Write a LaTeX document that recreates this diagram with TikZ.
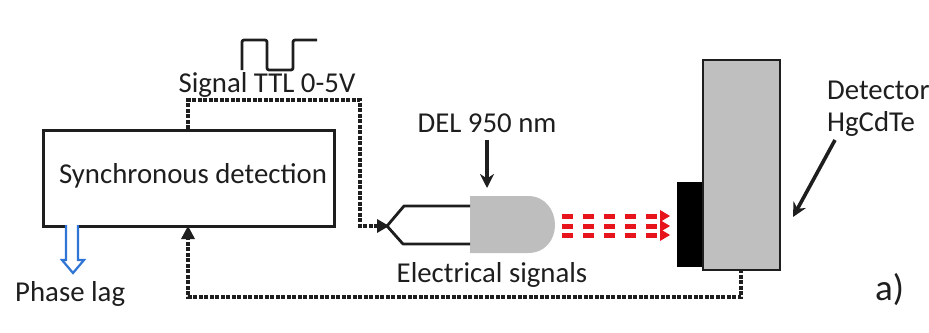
\documentclass[tikz,border=0pt]{standalone}
\usepackage{fontspec}
\setmainfont{Carlito}
\usetikzlibrary{arrows.meta,calc}
\definecolor{ledgray}{HTML}{BEBEBE}
\definecolor{detgray}{HTML}{BFBFBF}
\definecolor{sigred}{HTML}{E8141C}
\definecolor{lagblue}{HTML}{2F75D6}
\definecolor{inkc}{HTML}{1E1E1E}
\tikzset{
  x=1pt,y=-1pt,
  label text/.style={inner sep=0pt,text=inkc,font=\fontsize{28.8}{32}\selectfont},
  solidbox/.style={draw=inkc,line width=2.8pt,inner sep=0pt},
  wire/.style={draw=inkc,line width=2.8pt,line join=round},
  dotted link/.style={draw=inkc,line width=4.8pt,dash pattern=on 4pt off 1.5pt},
  black tip/.style={-{Stealth[length=14pt,width=14pt]}},
  red beam/.style={draw=sigred,line width=5pt,dash pattern=on 11pt off 10pt},
}
\begin{document}
\begin{tikzpicture}
\useasboundingbox (0,0) rectangle (929,332);
% main box
\node[solidbox,minimum width=291pt,minimum height=96pt,anchor=north west] (sync) at (42,129) {};
\node[label text,anchor=center] (synctext) at (193,176) {Synchronous detection};
% detector
\node[draw=inkc,line width=2.4pt,fill=detgray,minimum width=77pt,minimum height=210pt,inner sep=0pt,anchor=north west] (det) at (702,59) {};
\node[fill=black,minimum width=25pt,minimum height=85pt,inner sep=0pt,anchor=north east] (window) at (702,182) {};
% LED
\coordinate (ledL) at (470,225);
\fill[ledgray] (470,196) -- (528,196) .. controls (545,196) and (555,210) .. (555,225) .. controls (555,240) and (545,253) .. (528,253) -- (470,253) -- cycle;
% LED leads
\coordinate (fork) at (387,226);
\coordinate (leadT) at (470,206);
\coordinate (leadB) at (470,244);
\draw[wire] (fork) -- (404,206) -- (leadT);
\draw[wire] (fork) -- (403,244) -- (leadB);
% dotted connectors
\coordinate (syncTop) at (188,129);
\coordinate (syncBot) at (188,227);
\coordinate (detBot) at (741,269);
\draw[dotted link] (syncTop) -- (188,100) -- (360,100) -- (360,226) -- (378,226);
\fill[inkc] (389,226) -- (377,219) -- (377,233) -- cycle;
\draw[dotted link] (detBot) -- (741,297) -- (188,297) -- (188,238);
\fill[inkc] (188,226) -- (181,239) -- (195,239) -- cycle;
% square wave
\coordinate (w0) at (242,70);
\coordinate (w1) at (317,40);
\draw[wire,rounded corners=2pt] (w0) -- (242,40) -- (267,40) -- (267,70) -- (293,70) -- (293,40) -- (w1);
% labels
\node[label text,anchor=center] (ttl) at (267,85) {Signal TTL 0-5V};
\node[label text,anchor=center] (del) at (487,123) {DEL 950 nm};
\node[label text,anchor=center] (elec) at (492,275) {Electrical signals};
\node[label text,anchor=west] (phase) at (15,294) {Phase lag};
\node[label text,anchor=west] (dettxt) at (827,90) {Detector};
\node[label text,anchor=west] (hg) at (827,124) {HgCdTe};
\node[label text,anchor=west,font=\fontsize{37}{40}\selectfont] (alab) at (875,290) {a)};
% DEL arrow
\coordinate (delA) at (487,140);
\coordinate (delB) at (487,188);
\draw[wire,line width=3.6pt,black tip] (delA) -- (delB);
% detector arrow
\coordinate (dA) at (835,140);
\coordinate (dB) at (793,217);
\draw[wire,line width=3.6pt,black tip] (dA) -- (dB);
% red beams
\foreach \yy/\nm in {216/a,226/b,235/c}{
  \coordinate (rs\nm) at (562,\yy);
  \coordinate (re\nm) at (670,\yy);
  \draw[red beam] (rs\nm) -- (660,\yy);
  \fill[sigred] (re\nm) -- (660,\yy-6) -- (660,\yy+6) -- cycle;
}
% phase lag arrow
\draw[draw=lagblue,line width=2.2pt,fill=white,line join=miter]
  (66,225) -- (66,260) -- (62,260) -- (73,273) -- (84,260) -- (78,260) -- (78,225);
\end{tikzpicture}
\end{document}
